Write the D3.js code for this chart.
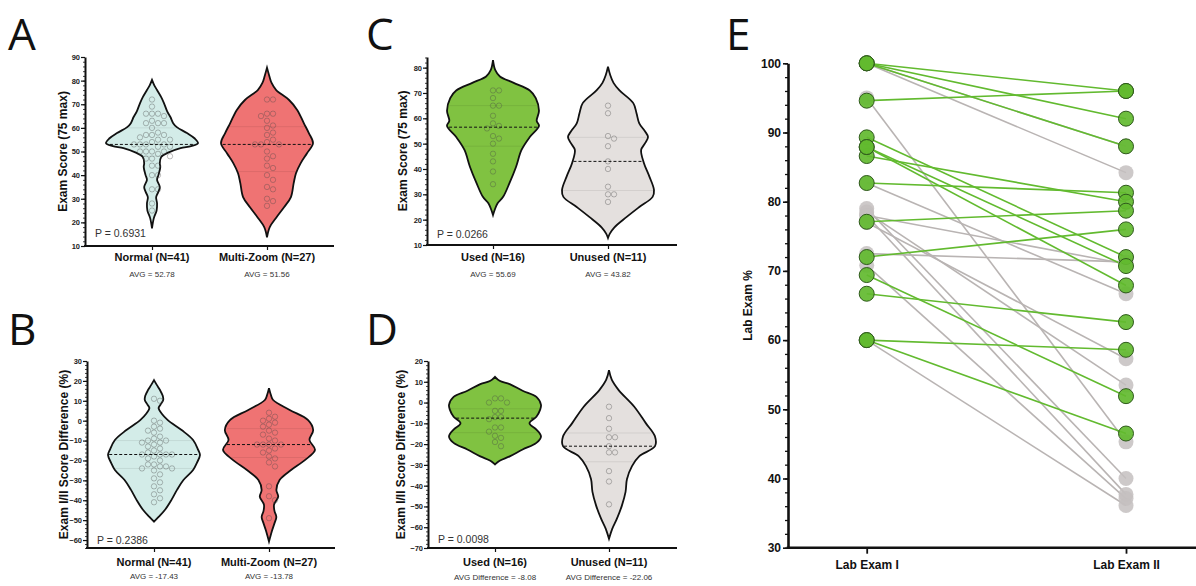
<!DOCTYPE html>
<html>
<head>
<meta charset="utf-8">
<style>
  body { margin: 0; background: #fff; }
  svg { display: block; font-family: "Liberation Sans", Arial, sans-serif; }
</style>
</head>
<body>
<script src="https://cdn.jsdelivr.net/npm/d3@7/dist/d3.min.js"></script>
<script>

/*========== Data ==========*/

// panels A / B groups
const zoomGroups = ["Normal (N=41)", "Multi-Zoom (N=27)"];
const scoreAvgLabels = ["AVG = 52.78", "AVG = 51.56"];
const diffAvgLabels = ["AVG = -17.43", "AVG = -13.78"];

// panels C / D groups
const useGroups = ["Used (N=16)", "Unused (N=11)"];
const useScoreAvgLabels = ["AVG = 55.69", "AVG = 43.82"];
const useDiffAvgLabels = ["AVG Difference = -8.08", "AVG Difference = -22.06"];

// individual dots
const normalScores = [72, 69, 66, 66, 66, 65, 63, 62, 62, 62, 60, 58, 57, 57, 57, 56, 55, 55, 54, 53,
  53, 53, 53, 52, 52, 50, 50, 50, 50, 49, 48, 47, 47, 44, 44, 40, 40, 34, 34, 28, 25];
const multiZoomScores = [72, 72, 66, 66, 65, 63, 61, 60, 58, 57, 55, 54, 53, 53, 53, 50, 48, 47, 44,
  43, 40, 38, 35, 34, 30, 29, 27];
const normalDiffs = [11, 10, 0, -1, -3, -4, -5, -6, -8, -9, -10, -10, -11, -11, -12, -13, -14, -15, -16,
  -17, -17, -17, -17, -18, -19, -20, -22, -22, -23, -23, -24, -24, -25, -27, -29, -31, -33, -35, -37, -39, -41];
const multiZoomDiffs = [4, 2, 1, 0, -1, -2, -3, -5, -6, -7, -9, -10, -12, -12, -12, -12, -14, -15, -16,
  -18, -19, -21, -23, -33, -38, -40, -49];
const usedScores = [71, 71, 68, 65, 65, 61, 58, 57, 56, 53, 52, 50, 46, 43, 39, 34];
const unusedScores = [65, 62, 53, 52, 49, 43, 40, 33, 30, 30, 27];
const usedDiffs = [2, 2, 0, 0, -4, -4, -7, -7, -8, -12, -12, -14, -16, -17, -19, -21];
const unusedDiffs = [-2, -7.5, -12.6, -16.7, -16.7, -21, -24, -24, -33, -38, -49];

// violin outlines: [value, relative half width]
const normalScoreShape = [[80.3,0],[78,0.05],[76,0.11],[73,0.2],[70.5,0.26],[67,0.33],[64.6,0.4],[62,0.46],
  [60.3,0.54],[57.8,0.76],[55.5,0.93],[53.5,1.0],[52.3,0.85],[51.4,0.62],[49.5,0.35],[47.7,0.2],[45,0.17],
  [43.5,0.18],[40,0.14],[38,0.11],[35,0.17],[33,0.14],[30.7,0.09],[28,0.11],[25,0.1],[21.8,0.04],[17.5,0]];
const multiZoomScoreShape = [[85.5,0],[82,0.05],[79,0.1],[76,0.2],[71.8,0.48],[67.5,0.66],[62,0.8],
  [57.8,0.91],[53.5,1.0],[49.3,0.87],[45,0.73],[40.8,0.63],[36.6,0.58],[30.7,0.52],[26.4,0.37],[22,0.2],
  [18,0.06],[13.7,0]];
const normalDiffShape = [[20.4,0],[18,0.06],[15.4,0.13],[12.5,0.19],[10.4,0.2],[8,0.14],[6.4,0.1],[3.5,0.17],
  [0.3,0.3],[-4.7,0.6],[-9.7,0.85],[-14.7,0.96],[-17.3,1.0],[-21.3,0.93],[-24.8,0.85],[-29.8,0.64],
  [-34.8,0.5],[-39.8,0.38],[-44.8,0.24],[-48.4,0.1],[-50.8,0]];
const multiZoomDiffShape = [[16.3,0],[13,0.04],[10.4,0.09],[5.4,0.45],[0.3,0.85],[-4.7,0.96],[-9.7,0.88],
  [-14.7,1.0],[-19.8,0.78],[-24.8,0.48],[-29.8,0.23],[-34.8,0.16],[-38.2,0.2],[-42.2,0.11],[-45.5,0.12],
  [-48.4,0.16],[-51.5,0.12],[-55,0.07],[-60.8,0]];
const usedScoreShape = [[83,0],[79,0.05],[76.5,0.15],[74,0.45],[71,0.8],[68,0.93],[63,1.0],[59,0.95],
  [57,1.0],[52.6,0.8],[47.5,0.62],[40.8,0.5],[34.5,0.36],[29,0.22],[26.5,0.1],[24,0.04],[21.8,0]];
const unusedScoreShape = [[80.4,0],[77,0.05],[74,0.12],[71,0.25],[66,0.55],[62,0.62],[58,0.68],[55,0.8],
  [52.6,0.87],[50,0.8],[47.5,0.72],[42.4,0.78],[37,0.9],[31.7,1.0],[29,0.97],[25,0.68],[21,0.4],[17,0.14],
  [14.5,0.04],[12.8,0]];
const usedDiffShape = [[12.4,0],[10.5,0.1],[8.9,0.32],[5.7,0.6],[2.7,0.9],[-1.1,1.0],[-3.5,0.98],[-6.8,0.9],
  [-9.9,0.75],[-13,0.9],[-16.3,1.0],[-19.4,0.9],[-22.6,0.6],[-25.9,0.32],[-28,0.1],[-29.8,0]];
const unusedDiffShape = [[15.6,0],[11,0.06],[6,0.21],[-2,0.55],[-9.9,0.8],[-16.3,1.0],[-21,1.0],[-25.8,0.66],
  [-30.6,0.5],[-36.9,0.39],[-43,0.36],[-49.6,0.28],[-56,0.17],[-60.8,0.07],[-65.6,0]];

// panel E paired lab exams
const labExams = ["Lab Exam I", "Lab Exam II"];
const usedLabI  = [100, 94.6, 100, 100, 82.7, 86.6, 77.1, 72.0, 89.3, 87.9, 87.9, 66.7, 60.0, 69.4, 60.0];
const usedLabII = [96.0, 96.0, 92.0, 88.0, 81.3, 80.0, 78.7, 76.0, 72.0, 70.7, 67.9, 62.6, 58.6, 51.9, 46.5];
const unusedLabI  = [100, 100, 95.0, 82.7, 79.0, 78.0, 77.0, 78.5, 70.8, 60.0, 78.0, 72.5];
const unusedLabII = [88.0, 84.2, 45.3, 66.7, 40.0, 37.7, 57.3, 53.5, 37.1, 36.1, 71.0, 71.3];

/*========== Styles ==========*/
const colNormal = "#d3ece8", colMulti = "#ef7373", colUsed = "#80c241", colUnused = "#e4e0de";

const svg = d3.select("body").append("svg")
    .attr("width", 1196)
    .attr("height", 586);
svg.append("rect").attr("width", 1196).attr("height", 586).attr("fill", "#fff");

// panel letters
const letters = [["A", 8, 50], ["C", 366, 50], ["B", 8, 345], ["D", 366, 345], ["E", 726, 50]];
svg.selectAll(".letter").data(letters).enter().append("text")
    .attr("x", d => d[1]).attr("y", d => d[2])
    .style("font-family", "'Open Sans', sans-serif")
    .style("font-size", "44px")
    .attr("fill", "#111")
    .text(d => d[0]);

/*========== helpers ==========*/
function halfWidthAt(shape, v) {
  // linear interpolation of the outline (values are listed top to bottom)
  for (let i = 0; i < shape.length - 1; i++) {
    const a = shape[i], b = shape[i + 1];
    if (v <= a[0] && v >= b[0]) return a[1] + (b[1] - a[1]) * (a[0] - v) / (a[0] - b[0]);
  }
  return 0;
}

function swarm(values, y, cx, r) {
  const placed = [];
  values.slice().sort((a, b) => b - a).forEach(v => {
    const py = y(v);
    for (let k = 0; k < 40; k++) {
      const px = cx + (k % 2 ? 1 : -1) * Math.ceil(k / 2) * (2 * r + 0.6);
      if (placed.every(q => (q.x - px) ** 2 + (q.y - py) ** 2 >= (2 * r + 0.3) ** 2)) {
        placed.push({x: px, y: py});
        break;
      }
    }
  });
  return placed;
}

function violinPanel(p) {
  const g = svg.append("g");
  const y = d3.scaleLinear().domain(p.domain).range([p.bottom, p.top]);
  const x = d3.scalePoint().domain(p.groups).range(p.centers);
  const w = d3.scaleLinear().domain([0, 1]).range([0, 46]);

  // violins
  p.groups.forEach((name, i) => {
    const cx = x(name), shape = p.shapes[i], vals = p.values[i];
    const area = d3.area()
        .y(d => y(d[0]))
        .x0(d => cx - w(d[1]))
        .x1(d => cx + w(d[1]))
        .curve(d3.curveCatmullRom.alpha(0.5));
    g.append("path").datum(shape)
        .attr("d", area)
        .attr("fill", p.colors[i])
        .attr("stroke", "#111")
        .attr("stroke-width", 1.8);

    const sorted = vals.slice().sort(d3.ascending);
    // quartile lines
    [0.25, 0.75].forEach(q => {
      const v = d3.quantile(sorted, q), hw = w(halfWidthAt(shape, v));
      g.append("line")
          .attr("x1", cx - hw + 1).attr("x2", cx + hw - 1)
          .attr("y1", y(v)).attr("y2", y(v))
          .attr("stroke", "rgba(0,0,0,0.1)").attr("stroke-width", 0.8);
    });

    // dots
    g.selectAll(null).data(swarm(vals, y, cx, 2.7)).enter().append("circle")
        .attr("cx", d => d.x).attr("cy", d => d.y).attr("r", 2.7)
        .attr("fill", "none")
        .attr("stroke", "rgba(70,70,70,0.45)")
        .attr("stroke-width", 0.8);

    // median
    const med = d3.median(sorted), hw = w(halfWidthAt(shape, med));
    g.append("line")
        .attr("x1", cx - hw + 1).attr("x2", cx + hw - 1)
        .attr("y1", y(med)).attr("y2", y(med))
        .attr("stroke", "#111").attr("stroke-width", 1)
        .attr("stroke-dasharray", "3,2");

    // category + average labels
    g.append("text").attr("x", cx).attr("y", p.labelY)
        .attr("text-anchor", "middle")
        .style("font-size", "11px").style("font-weight", "bold").attr("fill", "#111")
        .text(name);
    g.append("text").attr("x", cx).attr("y", p.avgY)
        .attr("text-anchor", "middle")
        .style("font-size", "8px").attr("fill", "#333")
        .text(p.avgs[i]);
  });

  // y axis: minor then major ticks
  const minor = d3.range(p.domain[0], p.domain[1] + 0.01, p.minorStep);
  g.append("g").attr("transform", `translate(${p.axisX},0)`)
      .call(d3.axisLeft(y).tickValues(minor).tickSize(2).tickSizeOuter(0).tickFormat(""))
      .call(a => a.select(".domain").attr("stroke-width", 2).attr("stroke", "#111"))
      .call(a => a.selectAll(".tick line").attr("stroke", "#111").attr("stroke-width", 0.8));
  g.append("g").attr("transform", `translate(${p.axisX},0)`)
      .call(d3.axisLeft(y).tickValues(p.ticks).tickSize(4).tickPadding(1).tickSizeOuter(0))
      .call(a => a.select(".domain").remove())
      .call(a => a.selectAll(".tick line").attr("stroke", "#111").attr("stroke-width", 1.2))
      .call(a => a.selectAll(".tick text").attr("fill", "#222")
          .style("font-size", "7.5px").style("font-weight", "bold")
          .style("font-family", "'Liberation Sans', Arial, sans-serif"));

  // x axis
  const xa = g.append("g").attr("transform", `translate(0,${p.bottom})`)
      .call(d3.axisBottom(x).tickSize(4).tickFormat(""));
  xa.select(".domain").remove();
  xa.selectAll(".tick line").attr("stroke", "#111").attr("stroke-width", 1.2);
  g.append("line")
      .attr("x1", p.axisX - 1).attr("x2", p.xEnd)
      .attr("y1", p.bottom).attr("y2", p.bottom)
      .attr("stroke", "#111").attr("stroke-width", 2);

  // y title
  g.append("text")
      .attr("transform", `translate(${p.titleX},${(p.top + p.bottom) / 2}) rotate(-90)`)
      .attr("text-anchor", "middle")
      .style("font-size", "12px").style("font-weight", "bold").attr("fill", "#111")
      .text(p.title);

  // p value
  g.append("text").attr("x", p.axisX + 10).attr("y", p.pY)
      .style("font-size", "10.5px").attr("fill", "#333")
      .text(p.pText);
}

/*========== Panels A-D ==========*/
violinPanel({
  groups: zoomGroups, centers: [152, 267], values: [normalScores, multiZoomScores],
  shapes: [normalScoreShape, multiZoomScoreShape], colors: [colNormal, colMulti], avgs: scoreAvgLabels,
  domain: [10, 90], ticks: d3.range(10, 91, 10), minorStep: 2, top: 57, bottom: 246,
  axisX: 85, xEnd: 334, labelY: 261, avgY: 277, pY: 237, titleX: 67,
  title: "Exam Score (75 max)", pText: "P = 0.6931"
});
violinPanel({
  groups: zoomGroups, centers: [154, 269], values: [normalDiffs, multiZoomDiffs],
  shapes: [normalDiffShape, multiZoomDiffShape], colors: [colNormal, colMulti], avgs: diffAvgLabels,
  domain: [-64, 30], ticks: d3.range(-60, 31, 10), minorStep: 2, top: 361, bottom: 548,
  axisX: 87, xEnd: 335, labelY: 566, avgY: 579, pY: 544, titleX: 68,
  title: "Exam I/II Score  Difference (%)", pText: "P = 0.2386"
});
violinPanel({
  groups: useGroups, centers: [493, 608], values: [usedScores, unusedScores],
  shapes: [usedScoreShape, unusedScoreShape], colors: [colUsed, colUnused], avgs: useScoreAvgLabels,
  domain: [10, 84.2], ticks: d3.range(10, 81, 10), minorStep: 2, top: 57, bottom: 245,
  axisX: 427, xEnd: 677, labelY: 261, avgY: 277, pY: 238, titleX: 407,
  title: "Exam Score (75 max)", pText: "P = 0.0266"
});
violinPanel({
  groups: useGroups, centers: [495, 609], values: [usedDiffs, unusedDiffs],
  shapes: [usedDiffShape, unusedDiffShape], colors: [colUsed, colUnused], avgs: useDiffAvgLabels,
  domain: [-70, 20], ticks: d3.range(-70, 21, 10), minorStep: 2, top: 361, bottom: 548,
  axisX: 428, xEnd: 677, labelY: 566, avgY: 580, pY: 543, titleX: 405,
  title: "Exam I/II Score Difference (%)", pText: "P = 0.0098"
});

/*========== Panel E ==========*/
const eY = d3.scaleLinear().domain([30, 100]).range([547.7, 63.3]);
const eX = d3.scalePoint().domain(labExams).range([866.7, 1126]);
const gE = svg.append("g");

function pairs(a, b) { return a.map((v, i) => [v, b[i]]); }
const unusedPairs = pairs(unusedLabI, unusedLabII);
const usedPairs = pairs(usedLabI, usedLabII);

gE.selectAll(".grayline").data(unusedPairs).enter().append("line")
    .attr("x1", eX(labExams[0])).attr("x2", eX(labExams[1]))
    .attr("y1", d => eY(d[0])).attr("y2", d => eY(d[1]))
    .attr("stroke", "#b9b4b3").attr("stroke-width", 1.6);
gE.selectAll(".greenline").data(usedPairs).enter().append("line")
    .attr("x1", eX(labExams[0])).attr("x2", eX(labExams[1]))
    .attr("y1", d => eY(d[0])).attr("y2", d => eY(d[1]))
    .attr("stroke", "#62ba2f").attr("stroke-width", 1.6);

[[unusedLabI, labExams[0]], [unusedLabII, labExams[1]]].forEach(([vals, k]) => {
  gE.selectAll(null).data(vals).enter().append("circle")
      .attr("cx", eX(k)).attr("cy", d => eY(d)).attr("r", 7.5)
      .attr("fill", "#c4c0bf").attr("fill-opacity", 0.85);
});
[[usedLabI, labExams[0]], [usedLabII, labExams[1]]].forEach(([vals, k]) => {
  gE.selectAll(null).data(vals).enter().append("circle")
      .attr("cx", eX(k)).attr("cy", d => eY(d)).attr("r", 7.5)
      .attr("fill", "#62ba2f").attr("fill-opacity", 0.92)
      .attr("stroke", "#2f5a1c").attr("stroke-width", 1);
});

// E axes
gE.append("g").attr("transform", "translate(788,0)")
    .call(d3.axisLeft(eY).tickValues(d3.range(30, 100.1, 2)).tickSize(3).tickSizeOuter(0).tickFormat(""))
    .call(a => a.select(".domain").attr("stroke", "#111").attr("stroke-width", 2.6))
    .call(a => a.selectAll(".tick line").attr("stroke", "#111").attr("stroke-width", 1.3));
gE.append("g").attr("transform", "translate(788,0)")
    .call(d3.axisLeft(eY).tickValues(d3.range(30, 101, 10)).tickSize(5).tickPadding(2).tickSizeOuter(0))
    .call(a => a.select(".domain").remove())
    .call(a => a.selectAll(".tick line").attr("stroke", "#111").attr("stroke-width", 1.6))
    .call(a => a.selectAll(".tick text").attr("fill", "#111")
        .style("font-size", "12px").style("font-weight", "bold")
        .style("font-family", "'Liberation Sans', Arial, sans-serif"));
const eXa = gE.append("g").attr("transform", "translate(0,547.7)")
    .call(d3.axisBottom(eX).tickSize(6).tickPadding(7));
eXa.select(".domain").remove();
eXa.selectAll(".tick line").attr("stroke", "#111").attr("stroke-width", 1.8);
eXa.selectAll(".tick text").attr("fill", "#111")
    .style("font-size", "12px").style("font-weight", "bold")
    .style("font-family", "'Liberation Sans', Arial, sans-serif");
gE.append("line").attr("x1", 786.7).attr("x2", 1196).attr("y1", 547.7).attr("y2", 547.7)
    .attr("stroke", "#111").attr("stroke-width", 2.6);
gE.append("text")
    .attr("transform", "translate(752,305.5) rotate(-90)")
    .attr("text-anchor", "middle")
    .style("font-size", "12px").style("font-weight", "bold").attr("fill", "#111")
    .text("Lab Exam %");

</script>
</body>
</html>
